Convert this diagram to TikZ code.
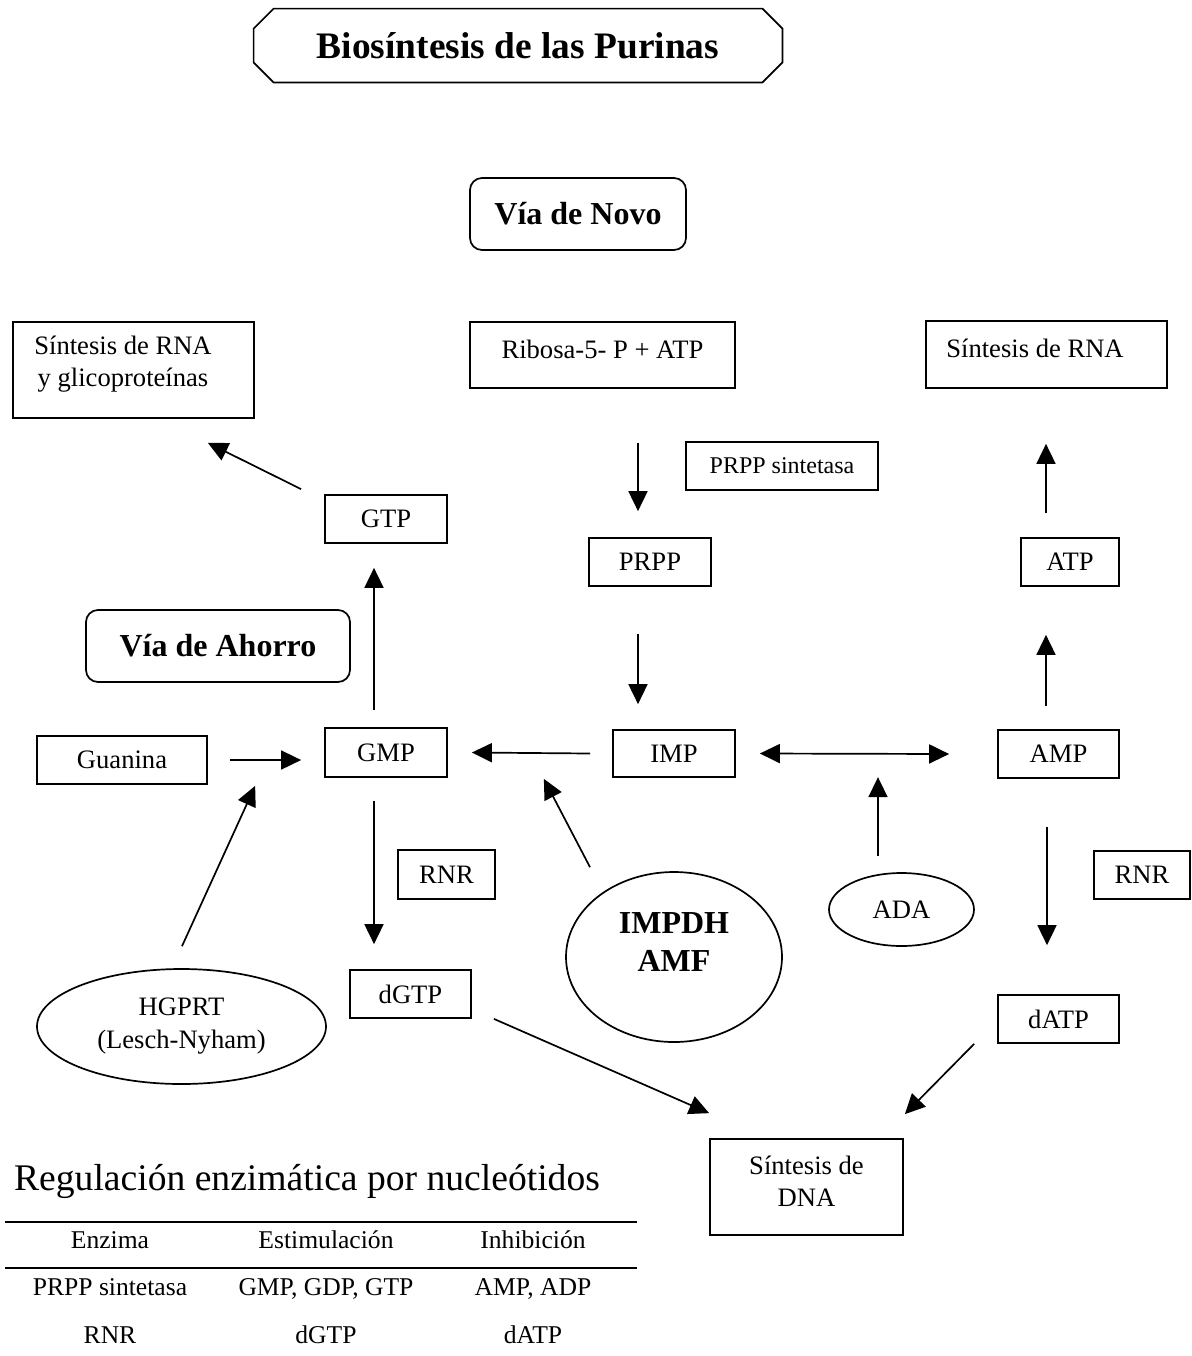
\documentclass[tikz,border=0pt]{standalone}
\usepackage{fontspec}
\setmainfont{Liberation Serif}
\usetikzlibrary{arrows.meta,calc,shapes.geometric}

\tikzset{
  caja/.style={draw,line width=0.85pt,inner sep=2pt,font=\fontsize{13.3}{16}\selectfont},
  caja redonda/.style={caja,rounded corners=6pt,font=\bfseries\fontsize{16}{19}\selectfont},
  enzima/.style={draw,ellipse,line width=0.85pt,inner sep=0pt,align=center,font=\fontsize{13.3}{16.5}\selectfont},
  flecha/.style={line width=0.85pt,-{Triangle[length=10pt,width=9.5pt]}},
  flechas/.style={line width=0.85pt,{Triangle[length=10pt,width=9.5pt]}-{Triangle[length=10pt,width=9.5pt]}},
  tabla/.style={anchor=base,font=\fontsize{12.8}{15}\selectfont},
  regla/.style={line width=1.2pt}
}

\begin{document}
\begin{tikzpicture}[x=0.5pt,y=-0.5pt]
\useasboundingbox (0,0) rectangle (1192,1356);

\node[minimum width=264pt,minimum height=36.5pt,inner sep=0pt,font=\bfseries\fontsize{18.7}{22}\selectfont]
  (titulo) at (518,45.5) {Biosíntesis de las Purinas};
\draw[line width=0.85pt] ($(titulo.north west)+(20,0)$) -- ($(titulo.north east)+(-20,0)$)
  -- ($(titulo.north east)+(0,20)$) -- ($(titulo.south east)+(0,-20)$)
  -- ($(titulo.south east)+(-20,0)$) -- ($(titulo.south west)+(20,0)$)
  -- ($(titulo.south west)+(0,-20)$) -- ($(titulo.north west)+(0,20)$) -- cycle;
\node[caja redonda,minimum width=108pt,minimum height=36pt] (novo) at (578,214) {Vía de Novo};
\node[caja redonda,minimum width=132pt,minimum height=36pt] (ahorro) at (218,646) {Vía de Ahorro};

\node[caja,align=center,minimum width=120.5pt,minimum height=48pt] (rnaglico) at (133.5,370)
  {Síntesis de RNA\kern10.5pt\\y glicoproteínas\kern10.5pt\rule[-9pt]{0pt}{9pt}};
\node[caja,minimum width=132.5pt,minimum height=33pt,text depth=6pt] (ribosa) at (602.5,355) {Ribosa-5- P + ATP};
\node[caja,minimum width=120.5pt,minimum height=33.5pt,text depth=6.5pt] (rnader) at (1046.5,354.5) {Síntesis de RNA\kern11.5pt};
\node[caja,minimum width=96pt,minimum height=24pt,font=\fontsize{12}{14}\selectfont] (sintetasa) at (782,466) {PRPP sintetasa};
\node[caja,minimum width=61pt,minimum height=24pt] (gtp) at (386,519) {GTP};
\node[caja,minimum width=61pt,minimum height=24pt] (prpp) at (650,562) {PRPP};
\node[caja,minimum width=49pt,minimum height=24pt] (atp) at (1070,562) {ATP};
\node[caja,minimum width=85pt,minimum height=24pt] (guanina) at (122,760) {Guanina};
\node[caja,minimum width=61pt,minimum height=24.5pt] (gmp) at (386,752.5) {GMP};
\node[caja,minimum width=61pt,minimum height=23.5pt] (imp) at (674,753.5) {IMP};
\node[caja,minimum width=60.5pt,minimum height=24pt] (amp) at (1058.5,754) {AMP};
\node[caja,minimum width=48.5pt,minimum height=24.5pt] (rnrizq) at (446.5,874.5) {RNR};
\node[caja,minimum width=48pt,minimum height=24pt] (rnrder) at (1142,875) {RNR};
\node[caja,minimum width=60.5pt,minimum height=24pt] (dgtp) at (410.5,994) {dGTP};
\node[caja,minimum width=60.5pt,minimum height=24pt] (datp) at (1058.5,1019) {dATP};
\node[caja,align=center,minimum width=96.5pt,minimum height=48pt] (dna) at (806.5,1187)
  {Síntesis de\\DNA\rule[-5.5pt]{0pt}{5.5pt}};

\node[enzima,minimum width=72.5pt,minimum height=36.5pt] (ada) at (901.5,909.5) {ADA};
\node[enzima,minimum width=108pt,minimum height=85pt,font=\bfseries\fontsize{16}{19}\selectfont] (impdh) at (674,957)
  {IMPDH\\AMF\rule[-15pt]{0pt}{15pt}};
\node[enzima,minimum width=144.5pt,minimum height=57.5pt] (hgprt) at (181.5,1026.5) {HGPRT\\(Lesch-Nyham)};

\draw[flecha] ($(gtp.north west)+(-23,-5)$) -- ($(rnaglico.south east)+(-47,24)$);
\draw[flecha] ($(gmp.north)+(-12,-17)$) -- ($(gtp.south)+(-12,24)$);
\draw[flecha] ($(ribosa.south)+(35.5,54)$) -- ($(prpp.north)+(-12,-26)$);
\draw[flecha] ($(prpp.south)+(-12,47)$) -- ($(imp.north)+(-36,-25)$);
\draw[flecha] ($(imp.west)+(-22,0)$) -- ($(gmp.east)+(24,0)$);
\draw[flechas] ($(imp.east)+(24,0)$) -- ($(amp.west)+(-48,0)$);
\draw[flecha] ($(amp.north)+(-12.5,-23)$) -- ($(atp.south)+(-24,48)$);
\draw[flecha] ($(atp.north)+(-24,-24)$) -- ($(rnader.south)+(-0.5,55)$);
\draw[flecha] ($(guanina.east)+(22,0)$) -- ($(gmp.west)+(-23,7.5)$);
\draw[flecha] ($(hgprt.north)+(0.5,-22)$) -- ($(gmp.south west)+(-69,8)$);
\draw[flecha] ($(gmp.south)+(-12,23)$) -- ($(dgtp.north)+(-36.5,-25)$);
\draw[flecha] ($(impdh.north)+(-84,-4)$) -- ($(gmp.south east)+(96,1)$);
\draw[flecha] ($(ada.north)+(-23.5,-16)$) -- ($(ada.north)+(-23.5,-95)$);
\draw[flecha] ($(amp.south)+(-11.5,48)$) -- ($(datp.north)+(-11.5,-49)$);
\draw[flecha] ($(dgtp.south east)+(22,0)$) -- ($(dna.north west)+(0,-25)$);
\draw[flecha] ($(datp.south west)+(-23,0)$) -- ($(dna.north east)+(1,-24)$);

\node[anchor=base,font=\fontsize{18.8}{22}\selectfont] (regulacion) at (307,1190) {Regulación enzimática por nucleótidos};
\draw[regla] (5,1222) -- (637,1222);
\draw[regla] (5,1268) -- (637,1268);
\node[tabla] (enz) at (110,1248) {Enzima};
\node[tabla] (est) at (326,1248) {Estimulación};
\node[tabla] (inh) at (533,1248) {Inhibición};
\node[tabla] (enz1) at (110,1295) {PRPP sintetasa};
\node[tabla] (est1) at (326,1295) {GMP, GDP, GTP};
\node[tabla] (inh1) at (533,1295) {AMP, ADP};
\node[tabla] (enz2) at (110,1343) {RNR};
\node[tabla] (est2) at (326,1343) {dGTP};
\node[tabla] (inh2) at (533,1343) {dATP};
\end{tikzpicture}
\end{document}
